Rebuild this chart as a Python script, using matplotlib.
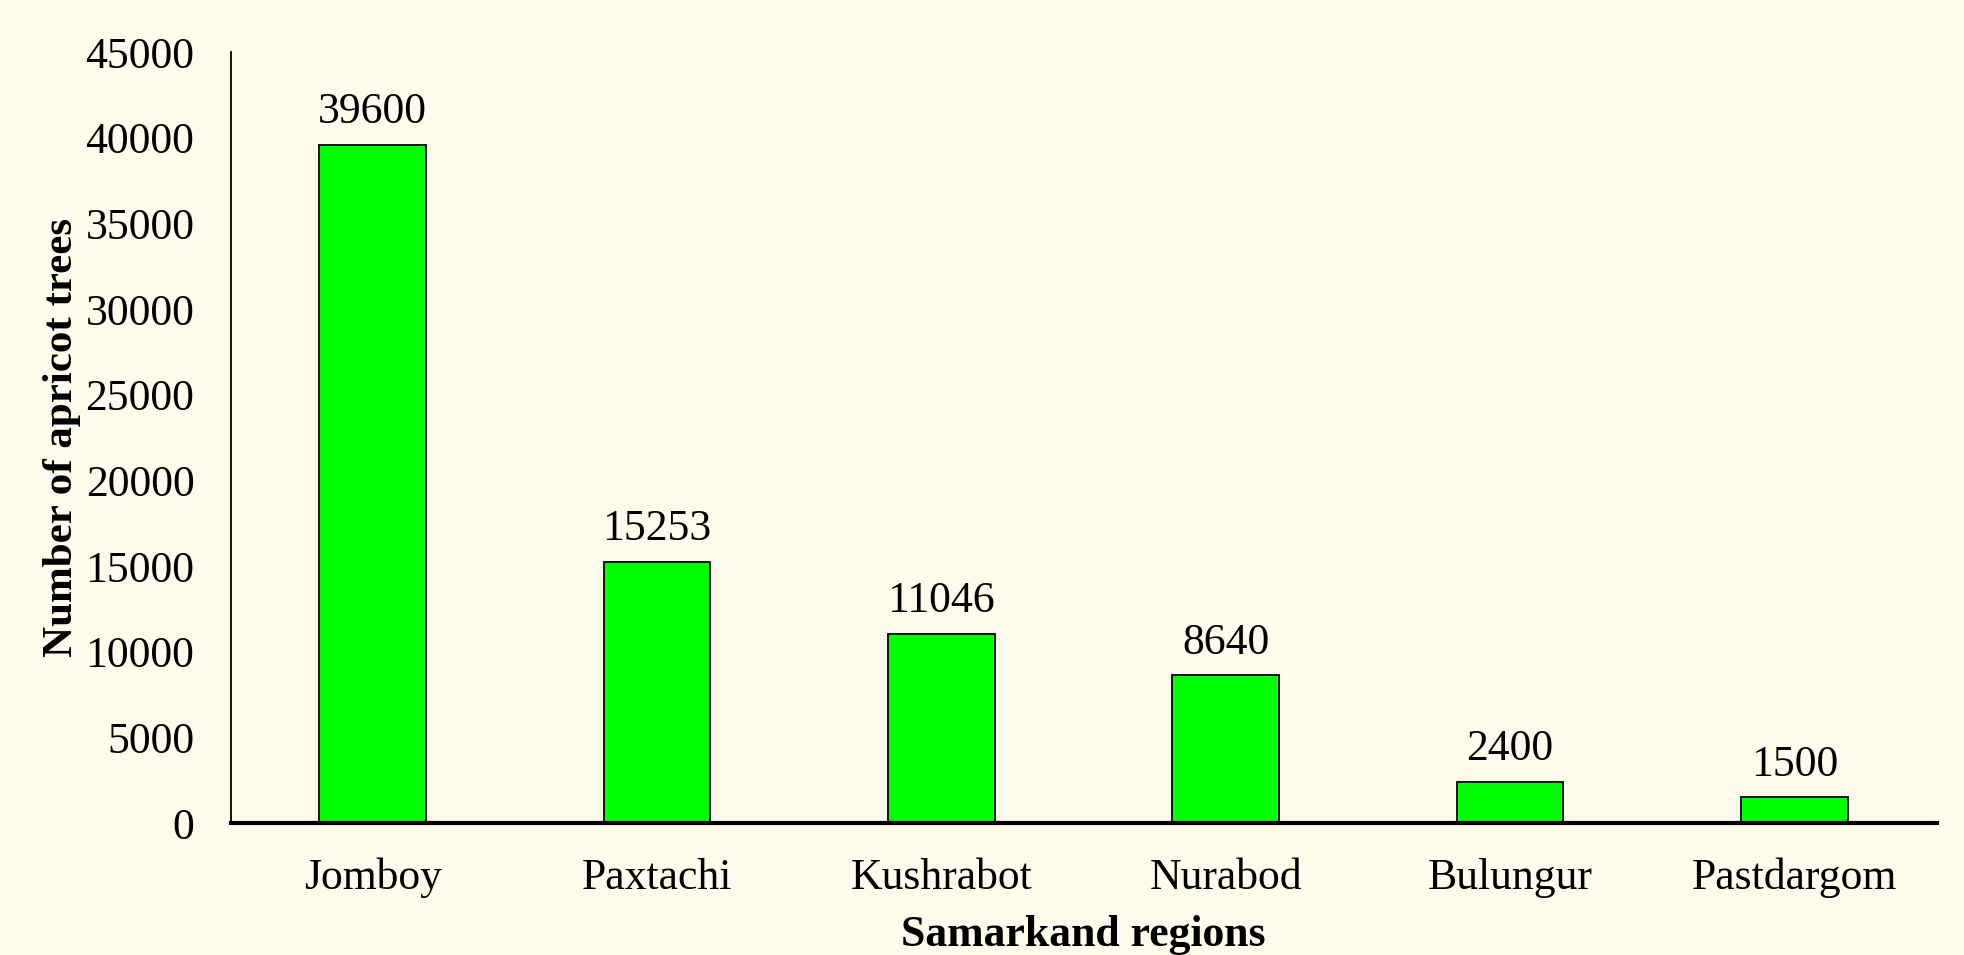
import matplotlib
matplotlib.use("Agg")
import matplotlib.pyplot as plt

regions = ["Jomboy", "Paxtachi", "Kushrabot", "Nurabod", "Bulungur", "Pastdargom"]
trees = [39600, 15253, 11046, 8640, 2400, 1500]
yticks = [0, 5000, 10000, 15000, 20000, 25000, 30000, 35000, 40000, 45000]

plt.rcParams['font.family'] = ['Liberation Serif', 'DejaVu Serif']
bg = '#FEFAEC'
fs = 31.5

fig = plt.figure(figsize=(19.64, 9.55), dpi=100, facecolor=bg)
ax = fig.add_axes([0.1174, 0.1382, 0.8686, 0.807])
ax.set_facecolor(bg)

bars = ax.bar(range(len(regions)), trees, width=0.375, color='#00FF00',
              edgecolor='black', linewidth=1.3)
ax.bar_label(bars, labels=[str(v) for v in trees], padding=9, fontsize=fs)

ax.set_xlim(-0.5, len(regions) - 0.5)
ax.set_ylim(0, 45000)
ax.set_yticks(yticks)
ax.set_xticks(range(len(regions)))
ax.set_xticklabels(regions)
ax.tick_params(axis='both', length=0, labelsize=fs)
ax.tick_params(axis='y', pad=26)
ax.tick_params(axis='x', pad=25)

for s in ['top', 'right']:
    ax.spines[s].set_visible(False)
ax.spines['left'].set_linewidth(1.3)
ax.spines['bottom'].set_linewidth(3)

ax.set_xlabel('Samarkand regions', fontsize=fs, fontweight='bold', labelpad=12)
ax.set_ylabel('Number of apricot trees', fontsize=31, fontweight='bold', labelpad=3)

fig.savefig('out.png', dpi=100, facecolor=bg)
